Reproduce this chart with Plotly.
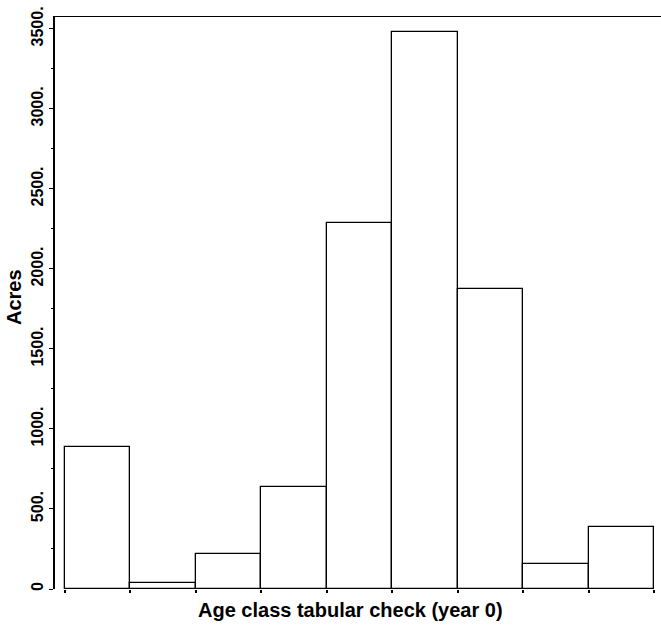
import plotly.graph_objects as go

# Data
age_classes = [1, 2, 3, 4, 5, 6, 7, 8, 9]
acres = [887, 35, 219, 640, 2289, 3481, 1875, 154, 387]
y_tickvals = [0, 500, 1000, 1500, 2000, 2500, 3000, 3500]
y_ticktext = ["0", "500.", "1000.", "1500.", "2000.", "2500.", "3000.", "3500."]

FONT = "Liberation Sans, Arial, sans-serif"

n = len(age_classes)
fig = go.Figure()
fig.add_trace(go.Bar(
    x=list(range(n)),
    y=acres,
    width=1.0,
    marker=dict(color="white", line=dict(color="black", width=1.3)),
    showlegend=False,
))

fig.update_layout(
    width=661, height=630,
    margin=dict(l=55, r=0, t=16, b=41),
    paper_bgcolor="white", plot_bgcolor="white",
    font=dict(family=FONT, color="black"),
    bargap=0,
    xaxis=dict(
        range=[-0.653, 8.607],
        tickvals=[i - 0.5 for i in range(n + 1)],
        showticklabels=False, ticks="outside", ticklen=3, tickwidth=1.5, tickcolor="black",
        showgrid=False, zeroline=False, showline=False,
    ),
    yaxis=dict(
        range=[0, 3580],
        tickvals=y_tickvals, ticktext=y_ticktext,
        tickangle=-90,
        tickfont=dict(family=FONT, size=16, color="black", weight="bold"),
        ticks="outside", ticklen=4, tickwidth=1.2, tickcolor="black",
        minor=dict(dtick=250, ticks="outside", ticklen=2, tickcolor="black"),
        showgrid=False, zeroline=False,
        showline=True, linecolor="black", linewidth=2,
    ),
    shapes=[dict(type="line", xref="paper", yref="y", x0=0, x1=1, y0=3580, y1=3580,
                 line=dict(color="black", width=2))],
    annotations=[
        dict(text="<b>Age class tabular check (year 0)</b>", xref="paper", yref="paper",
             x=(350 - 55) / 606, y=-(610 - 589) / 573, xanchor="center", yanchor="middle",
             showarrow=False,
             font=dict(family=FONT, size=20, color="black")),
        dict(text="<b>Acres</b>", xref="paper", yref="paper",
             x=-(55 - 14) / 606, y=(589 - 297) / 573, xanchor="center", yanchor="middle",
             textangle=-90, showarrow=False,
             font=dict(family=FONT, size=20, color="black")),
    ],
)

fig.write_html("out.html")
